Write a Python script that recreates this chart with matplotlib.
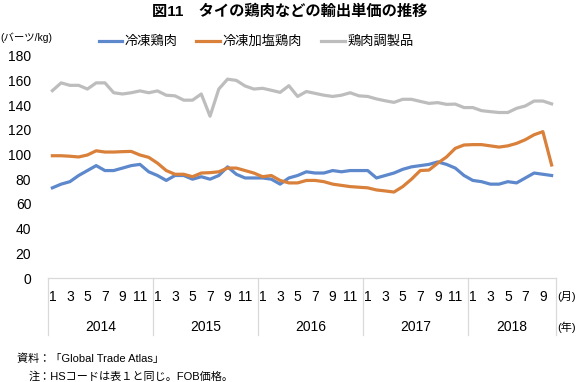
import numpy as np
import matplotlib
matplotlib.use("Agg")
import matplotlib.pyplot as plt
import matplotlib.transforms as mtransforms

plt.rcParams['font.family'] = ['Liberation Sans', 'Noto Sans CJK JP', 'DejaVu Sans']

# monthly export unit price (baht/kg), Jan 2014 - Oct 2018
years = ['2014', '2015', '2016', '2017', '2018']
months_per_year = [12, 12, 12, 12, 10]

frozen = [73, 76, 78, 83, 87, 91, 87, 87, 89, 91, 92, 86,
          83, 79, 83, 83, 80, 82, 80, 83, 90, 84, 81, 81,
          81, 80, 76, 81, 83, 86, 85, 85, 87, 86, 87, 87,
          87, 81, 83, 85, 88, 90, 91, 92, 94, 92, 89, 83,
          79, 78, 76, 76, 78, 77, 81, 85, 84, 83]
salted = [99, 99, 98.6, 98, 99.6, 103, 102, 102, 102.3, 102.5, 99.6, 97.7,
          93, 87, 84, 84, 82, 85, 85.3, 86, 89, 89, 87, 85,
          82, 83, 79, 77, 77, 79, 79, 78, 76, 75, 74, 73.5,
          73, 71.3, 70.5, 69.6, 74, 80, 87, 87.4, 93, 98, 105, 107.7,
          108, 108, 107, 106, 107, 109, 112, 116, 118.5, 91.5]
processed = [151.7, 158, 156, 156, 153, 158, 158, 150, 149, 150, 151.5, 150,
             151.5, 148, 147.5, 144, 144, 149, 131, 153, 161, 160, 155.5, 153,
             153.6, 152, 150.3, 155.7, 147, 151, 149.5, 148, 147, 148, 150, 147.5,
             147, 145, 143.5, 142.2, 144.7, 144.7, 143, 141.4, 142, 140.6, 140.8, 138,
             138, 135.5, 134.7, 134, 134, 137.4, 139.3, 143.3, 143.3, 141]

series_names = ['冷凍鶏肉', '冷凍加塩鶏肉', '鶏肉調製品']
colors = ['#5d88cc', '#d9803a', '#bdbdbd']

W, H = 578, 382
fig = plt.figure(figsize=(W / 100, H / 100), dpi=100)

# axes box in pixels
left_px, right_px, top_px, bottom_px = 48, 556, 55.7, 278
ax = fig.add_axes([left_px / W, 1 - bottom_px / H,
                   (right_px - left_px) / W, (bottom_px - top_px) / H])

n = sum(months_per_year)
x = np.arange(n)
lines = []
for vals, name, c in zip([frozen, salted, processed], series_names, colors):
    ln, = ax.plot(x, vals, color=c, lw=2.3, label=name, solid_joinstyle='round')
    lines.append(ln)

ax.set_xlim(-0.5, n - 0.5)
ax.set_ylim(0, 180)
ax.set_yticks(range(0, 181, 20))
ax.tick_params(axis='y', length=0, pad=12, labelsize=10)
ax.set_xticks([])
for s in ax.spines.values():
    s.set_visible(False)

# category axis drawn by hand (two-level labels)
trans = mtransforms.blended_transform_factory(ax.transData, ax.transAxes)
axis_h = (bottom_px - top_px)
grid_c = '#d9d9d9'
ax.plot([-0.5, n - 0.5], [0, 0], color=grid_c, lw=0.9, transform=trans, clip_on=False)
bounds = np.concatenate([[0], np.cumsum(months_per_year)]) - 0.5
for b in bounds:
    ax.plot([b, b], [0, -(335 - bottom_px) / axis_h], color=grid_c, lw=0.9,
            transform=trans, clip_on=False)

month_y = -(297 - bottom_px) / axis_h
year_y = -(327 - bottom_px) / axis_h
start = 0
for yr, m in zip(years, months_per_year):
    for k in range(0, m, 2):
        ax.text(start + k, month_y, str(k + 1), transform=trans, ha='center',
                va='center', fontsize=10)
    ax.text(start + (m - 1) / 2, year_y, yr, transform=trans, ha='center',
            va='center', fontsize=10)
    start += m

fig.text(567 / W, 1 - 297 / H, '(月)', ha='center', va='center', fontsize=8)
fig.text(567 / W, 1 - 327 / H, '(年)', ha='center', va='center', fontsize=8)

# title, unit, legend, notes
fig.text(290 / W, 1 - 12 / H, '図11　タイの鶏肉などの輸出単価の推移', ha='center',
         va='center', fontsize=11, fontweight='bold')
fig.text(0, 1 - 38 / H, '(バーツ/kg)', ha='left', va='center', fontsize=7.5)
fig.legend(handles=lines, loc='center', bbox_to_anchor=(256 / W, 1 - 42 / H),
           ncol=3, frameon=False, fontsize=9.5, handlelength=1.8,
           handletextpad=0.2, columnspacing=1.4)

fig.text(17 / W, 1 - 359 / H, '資料：「Global Trade Atlas」', ha='left',
         va='center', fontsize=8)
fig.text(29 / W, 1 - 377 / H, '注：HSコードは表１と同じ。FOB価格。', ha='left',
         va='center', fontsize=8)

fig.savefig('out.png', dpi=100)
